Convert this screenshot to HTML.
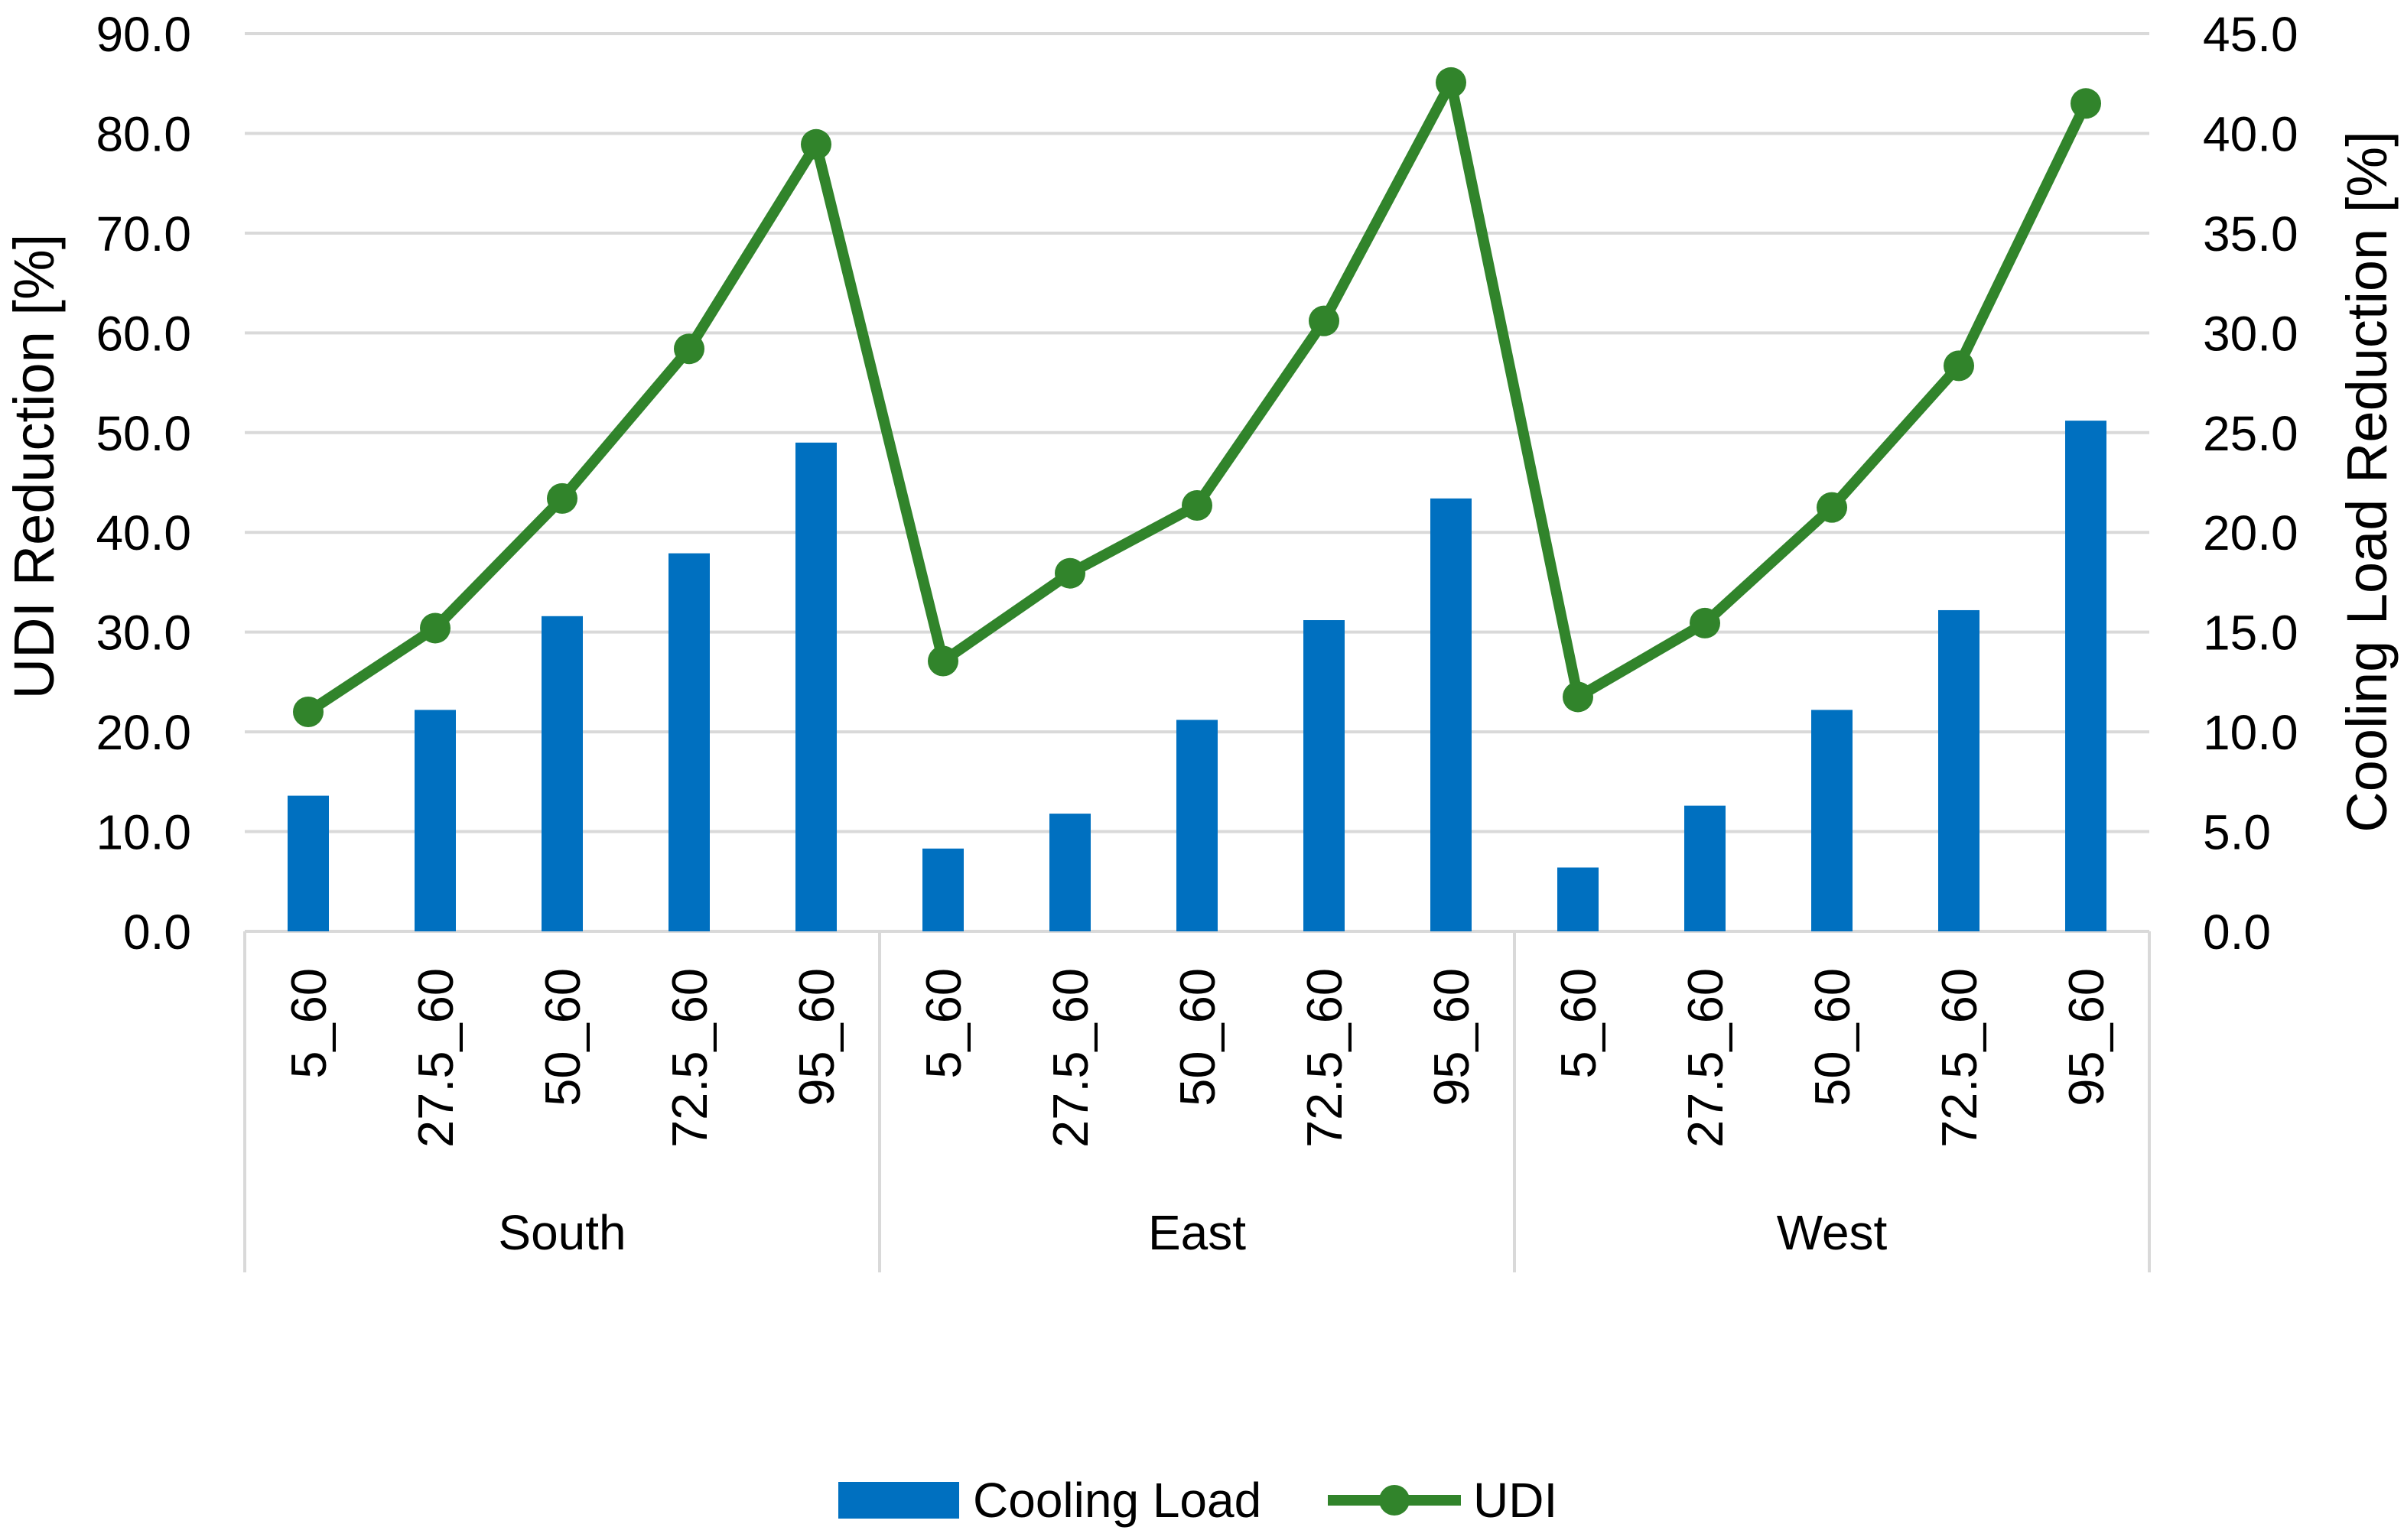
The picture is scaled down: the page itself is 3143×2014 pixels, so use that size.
<!DOCTYPE html>
<html><head><meta charset="utf-8"><style>
html,body{margin:0;padding:0;background:#fff;}
svg{display:block;font-family:"Liberation Sans",sans-serif;}
</style></head><body>
<svg id="chart" width="3143" height="2014" viewBox="0 0 3143 2014" xmlns="http://www.w3.org/2000/svg">
<g id="grid"></g>
<g id="bars"></g>
<g id="line"></g>
<g id="axes"></g>
<text transform="translate(70,610) rotate(-90)" text-anchor="middle" font-size="74">UDI Reduction [%]</text>
<text transform="translate(3120,630) rotate(-90)" text-anchor="middle" font-size="74">Cooling Load Reduction [%]</text>
<g>
  <rect x="1096" y="1938" width="158" height="48" fill="#0070c0"/>
  <text x="1272" y="1984" font-size="64">Cooling Load</text>
  <line x1="1736" y1="1962" x2="1910" y2="1962" stroke="#31842b" stroke-width="14"/>
  <circle cx="1823" cy="1962" r="20" fill="#31842b"/>
  <text x="1926" y="1984" font-size="64">UDI</text>
</g>
</svg>
<script>
const categories = ["5_60","27.5_60","50_60","72.5_60","95_60","5_60","27.5_60","50_60","72.5_60","95_60","5_60","27.5_60","50_60","72.5_60","95_60"];
const groups = ["South","East","West"];
const coolingLoad = [6.8,11.1,15.8,18.95,24.5,4.15,5.9,10.6,15.6,21.7,3.2,6.3,11.1,16.1,25.6];
const udi = [22.0,30.4,43.4,58.4,78.9,27.1,35.9,42.7,61.2,85.1,23.5,30.9,42.5,56.7,83.0];
const leftTicks = ["0.0","10.0","20.0","30.0","40.0","50.0","60.0","70.0","80.0","90.0"];
const rightTicks = ["0.0","5.0","10.0","15.0","20.0","25.0","30.0","35.0","40.0","45.0"];

const NS="http://www.w3.org/2000/svg";
const L=320,R=2810,T=44,B=1218;
const yL=v=>B-(v/90)*(B-T);
const yR=v=>B-(v/45)*(B-T);
const band=(R-L)/categories.length;
const xC=i=>L+band*(i+0.5);
function mk(tag,parent,attrs){const e=document.createElementNS(NS,tag);for(const k in attrs)e.setAttribute(k,attrs[k]);parent.appendChild(e);return e;}
const grid=document.getElementById('grid'),bars=document.getElementById('bars'),line=document.getElementById('line'),axes=document.getElementById('axes');

leftTicks.forEach((t,i)=>{
  const v=parseFloat(t);
  const g=mk('line',grid,{x1:L,x2:R,y1:yL(v),y2:yL(v),stroke:'#d9d9d9','stroke-width':4});
  
  
  const tx=mk('text',axes,{x:250,y:yL(v)+23,'text-anchor':'end','font-size':64});
  tx.textContent=t;
  
  
});
rightTicks.forEach(t=>{
  const v=parseFloat(t);
  const tx=mk('text',axes,{x:2880,y:yR(v)+23,'text-anchor':'start','font-size':64});
  tx.textContent=t;
  
  
});
coolingLoad.forEach((v,i)=>{
  const r=mk('rect',bars,{x:xC(i)-27,y:yR(v),width:54,height:B-yR(v),fill:'#0070c0'});
  
  
});
let d='';
udi.forEach((v,i)=>{d+=(i?'L':'M')+xC(i)+' '+yL(v)+' ';});
const p=mk('path',line,{d:d,fill:'none',stroke:'#31842b','stroke-width':14,'stroke-linejoin':'round'});


udi.forEach((v,i)=>{
  const c=mk('circle',line,{cx:xC(i),cy:yL(v),r:20,fill:'#31842b'});
  
  
});
for(let gi=0;gi<=groups.length;gi++){
  const x=L+band*5*gi;
  const s=mk('line',axes,{x1:x,x2:x,y1:B,y2:1664,stroke:'#d9d9d9','stroke-width':4});
  
  
}
categories.forEach((c,i)=>{
  const t=mk('text',axes,{transform:`translate(${xC(i)+23},1266) rotate(-90)`,'text-anchor':'end','font-size':65});
  t.textContent=c;
  
  
});
groups.forEach((g,gi)=>{
  const t=mk('text',axes,{x:L+band*5*(gi+0.5),y:1634,'text-anchor':'middle','font-size':64});
  t.textContent=g;
  
  
});
</script>
</body></html>
